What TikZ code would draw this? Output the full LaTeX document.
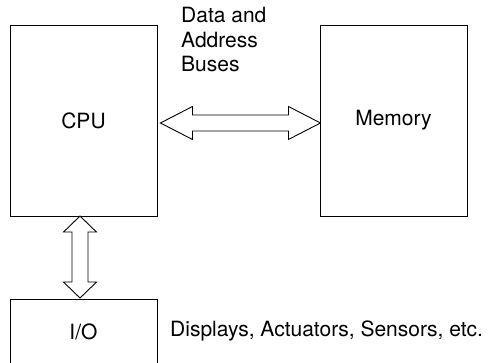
\documentclass[tikz,border=0pt]{standalone}
\usepackage{fontspec}
\setmainfont{TeX Gyre Heros}
\usepackage{tikz}
\usetikzlibrary{calc}

\tikzset{
	box/.style={draw, line width=0.9pt, minimum width=147pt, minimum height=191pt, inner sep=0pt},
	bus/.style={draw, line width=0.9pt, fill=white, line join=miter},
	lbl/.style={inner sep=0pt, align=left}
}

\begin{document}
\begin{tikzpicture}[x=1pt, y=1pt, font=\fontsize{21}{24.5}\selectfont]
		\useasboundingbox (0,0) rectangle (488,363);
		\node[box] (cpu) at (83.5,242.5) {CPU};
		\node[box] (mem) at (393.5,242.5) {Memory};
		\node[box, minimum height=65pt] (io) at (83.5,31) {I/O};
		\node[lbl, anchor=north west] (buses) at (181,356) {Data and\\Address\\Buses};
		\node[lbl, anchor=base west] (devs) at (170,26) {Displays, Actuators, Sensors, etc.};
		\coordinate (busL) at ($(cpu.east)+(3,-2.5)$);
		\coordinate (busD) at ($(io.north)+(-3.5,1)$);
		\draw[bus] (busL) -- ++(32,16.5) -- ++(0,-8.5) -- ++(96,0) -- ++(0,8.5)
			-- ++(32,-16.5) -- ++(-32,-16.5) -- ++(0,8.5) -- ++(-96,0) -- ++(0,-8.5) -- cycle;
		\draw[bus] (busD) -- ++(-16.5,16) -- ++(8.5,0) -- ++(0,50) -- ++(-8.5,0)
			-- ++(16.5,16) -- ++(16.5,-16) -- ++(-8.5,0) -- ++(0,-50) -- ++(8.5,0) -- cycle;
	\end{tikzpicture}
\end{document}
